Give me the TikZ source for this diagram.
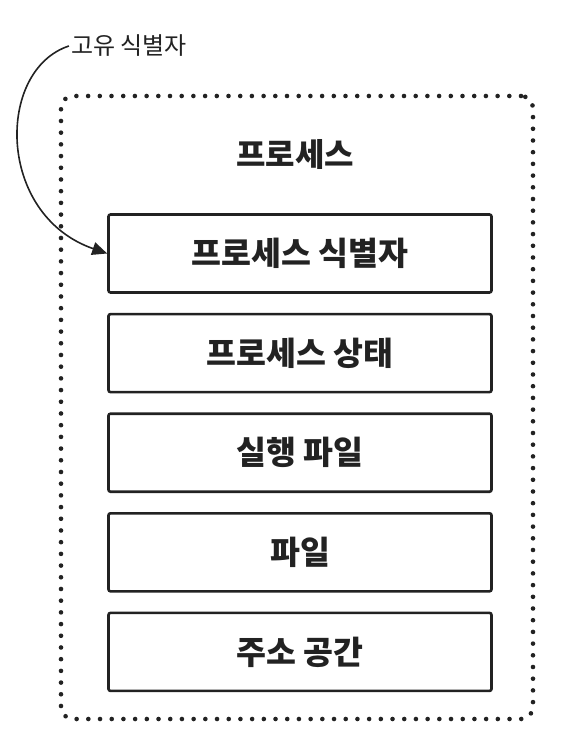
\documentclass[tikz,border=0pt]{standalone}
\usepackage{fontspec}
\usepackage{tikz}
\usetikzlibrary{positioning,arrows.meta}
\newfontfamily\kr{Noto Sans CJK KR}
\definecolor{ink}{HTML}{222222}

\begin{document}
\begin{tikzpicture}[x=1pt,y=-1pt,>={Triangle[length=15pt,width=13pt]},
  part/.style={draw=ink, line width=2.6pt, rounded corners=2pt, minimum width=383pt, minimum height=78pt, font=\kr\bfseries\fontsize{32.5}{36}\selectfont, text=ink},
  frame/.style={draw=ink, line width=4.6pt, line cap=round, dash pattern=on 0pt off 11.7pt, rounded corners=12pt, minimum width=472pt, minimum height=623pt},
  node distance=19pt]
\useasboundingbox (0,0) rectangle (560,746);
\node[frame] (proc) at (297,407.5) {};
\node[font=\kr\bfseries\fontsize{32}{36}\selectfont, text=ink] (title) at (295,155) {프로세스};
\node[part] (pid) at (300,253.5) {프로세스 식별자};
\node[part, below=of pid] (state) {프로세스 상태};
\node[part, below=of state] (exec) {실행 파일};
\node[part, below=of exec] (files) {파일};
\node[part, below=of files] (addr) {주소 공간};
\node[font=\kr\fontsize{24}{27}\selectfont, text=ink, inner sep=2pt] (uid) at (129,46) {고유 식별자};
%\node[part, right=of pid] (pcb) {};
\draw[->, ink, line width=1.6pt] (uid.west) .. controls (-4,70) and (-4,215) .. (pid.west);
\end{tikzpicture}
\end{document}
